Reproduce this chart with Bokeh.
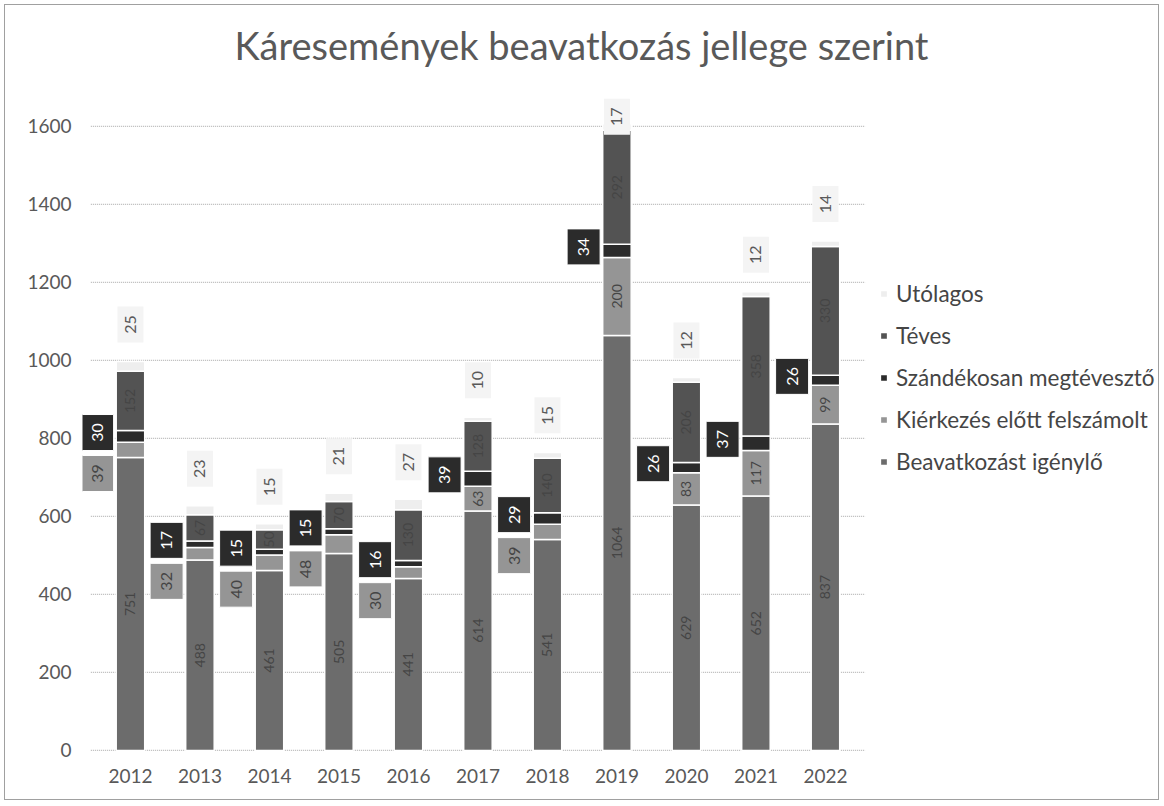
import math
from bokeh.plotting import figure
from bokeh.models import ColumnDataSource, Range1d, FixedTicker, Label, Legend, LegendItem
from bokeh.core.properties import value
from bokeh.embed import file_html
from bokeh.resources import INLINE

# ---------------- data ----------------
years = ["2012", "2013", "2014", "2015", "2016", "2017", "2018", "2019", "2020", "2021", "2022"]
beavatkozast = [751, 488, 461, 505, 441, 614, 541, 1064, 629, 652, 837]
kierkezes = [39, 32, 40, 48, 30, 63, 39, 200, 83, 117, 99]
szandekosan = [30, 17, 15, 15, 16, 39, 29, 34, 26, 37, 26]
teves = [152, 67, 50, 70, 130, 128, 140, 292, 206, 358, 330]
utolagos = [25, 23, 15, 21, 27, 10, 15, 17, 12, 12, 14]
y_ticks = [0, 200, 400, 600, 800, 1000, 1200, 1400, 1600]

title_text = "Káresemények beavatkozás jellege szerint"
names = ["Beavatkozást igénylő", "Kiérkezés előtt felszámolt",
         "Szándékosan megtévesztő", "Téves", "Utólagos"]

# ---------------- styling / layout ----------------
colors = ["#6c6c6c", "#959595", "#2b2b2b", "#535353", "#eeeeee"]
FONT = "Lato"
TXT = "#595959"
W, H = 1155, 796
BL, BB = 77, 48            # left / bottom borders for the axes
XPX = 69.5                 # pixels per category
YPX = 0.39                 # pixels per value unit
X0 = -0.69
Y0 = -8
FW = W - BL
FH = H - BB
X1 = X0 + FW / XPX
Y1 = Y0 + FH / YPX


def dx(fx):
    return X0 + (fx - BL) / XPX


def dy(fy):
    return Y0 + (H - BB - fy) / YPX


UPP = 1 / YPX  # data units per pixel (vertical)

p = figure(width=W, height=H, x_range=Range1d(X0, X1), y_range=Range1d(Y0, Y1),
           output_backend="svg", toolbar_location=None,
           min_border_left=BL, min_border_right=0, min_border_top=0, min_border_bottom=BB)
p.outline_line_color = None
p.xgrid.visible = False
p.ygrid.visible = False
p.background_fill_color = "white"
p.border_fill_color = "white"
p.styles = {"border": "1px solid #a0a0a0", "margin": "4px 0 0 4px"}

xs = list(range(len(years)))

# gridlines
p.segment(x0=[-0.57] * len(y_ticks), x1=[10.57] * len(y_ticks), y0=y_ticks, y1=y_ticks,
          line_color="#b8b8b8", line_dash="1 1", line_width=1.2)

# stacked bars
series = [beavatkozast, kierkezes, szandekosan, teves, utolagos]
bottom = [0] * len(years)
renderers = []
mids = []
for vals, col in zip(series, colors):
    top = [b + v for b, v in zip(bottom, vals)]
    src = ColumnDataSource(dict(x=xs, bottom=bottom, top=top))
    r = p.vbar(x="x", bottom="bottom", top="top", width=0.41, source=src,
               fill_color=col, line_color="white", line_width=1.5)
    renderers.append(r)
    mids.append([(b + t) / 2 for b, t in zip(bottom, top)])
    bottom = top
totals = bottom

ang = math.pi / 2

# labels inside bars
in_x, in_y, in_t = [], [], []
for i in xs:
    in_x += [i, i]
    in_y += [mids[0][i], mids[3][i]]
    in_t += [str(beavatkozast[i]), str(teves[i])]
    if kierkezes[i] >= 50:
        in_x.append(i)
        in_y.append(mids[1][i])
        in_t.append(str(kierkezes[i]))
p.text(x=in_x, y=in_y, text=in_t, angle=ang, text_align="center", text_baseline="middle",
       text_font=value(FONT), text_font_size="14px", text_color="#454545")

# callout boxes: Szándékosan (dark) and small Kiérkezés (light)
off = -0.48
d_x = [i + off for i in xs]
d_y = [mids[2][i] + 10 for i in xs]
p.rect(x=d_x, y=d_y, width=33, height=36, width_units="screen", height_units="screen",
       fill_color="#2b2b2b", line_color="white", line_width=1)
p.text(x=d_x, y=d_y, text=[str(v) for v in szandekosan], angle=ang, text_align="center",
       text_baseline="middle", text_font=value(FONT), text_font_size="16px", text_color="white")

l_x = [i + off for i in xs if kierkezes[i] < 50]
l_y = [d_y[i] - 41 * UPP for i in xs if kierkezes[i] < 50]
l_t = [str(kierkezes[i]) for i in xs if kierkezes[i] < 50]
p.rect(x=l_x, y=l_y, width=33, height=36, width_units="screen", height_units="screen",
       fill_color="#959595", line_color="white", line_width=1)
p.text(x=l_x, y=l_y, text=l_t, angle=ang, text_align="center", text_baseline="middle",
       text_font=value(FONT), text_font_size="16px", text_color="#454545")

# Utólagos labels above bars
u_y = [min(t + 95, 1625) for t in totals]
p.rect(x=xs, y=u_y, width=26, height=36, width_units="screen", height_units="screen",
       fill_color="#f4f4f4", line_color=None)
p.text(x=xs, y=u_y, text=[str(v) for v in utolagos], angle=ang, text_align="center",
       text_baseline="middle", text_font=value(FONT), text_font_size="16px", text_color=TXT)

# axes
p.yaxis.ticker = FixedTicker(ticks=y_ticks)
p.xaxis.ticker = FixedTicker(ticks=xs)
p.xaxis.major_label_overrides = {i: y for i, y in enumerate(years)}
for ax in (p.xaxis[0], p.yaxis[0]):
    ax.axis_line_color = None
    ax.major_tick_line_color = None
    ax.minor_tick_line_color = None
    ax.major_label_text_font = FONT
    ax.major_label_text_font_size = "19px"
    ax.major_label_text_color = TXT
p.yaxis.major_label_standoff = 5
p.xaxis.major_label_standoff = 9

# title
p.add_layout(Label(x=dx(576), y=dy(39), text=title_text, text_align="center",
                   text_baseline="middle", text_font=FONT, text_font_size="38px",
                   text_color=TXT))

# legend
order = [4, 3, 2, 1, 0]
items = [LegendItem(label=value(names[k]), renderers=[renderers[k]]) for k in order]
legend = Legend(items=items, location=(874 - BL, (H - BB) - 470),
                orientation="vertical", padding=0, margin=0, spacing=15,
                label_height=22, glyph_height=9, glyph_width=9, label_standoff=8,
                label_text_font=FONT, label_text_font_size="22.5px", label_text_color="#454545",
                border_line_color=None, background_fill_alpha=0)
p.add_layout(legend, "center")

open("out.html", "w").write(file_html(p, INLINE))
